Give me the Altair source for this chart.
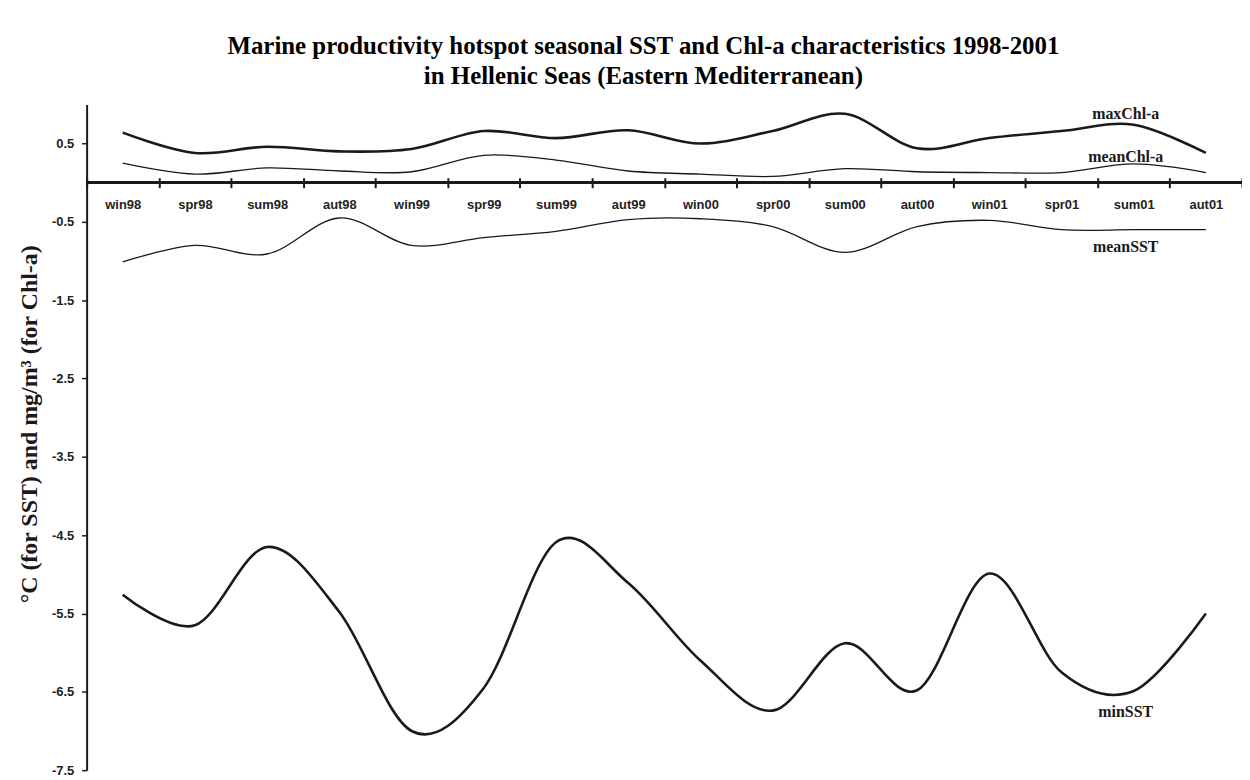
import altair as alt
import pandas as pd

seasons = ["win98", "spr98", "sum98", "aut98", "win99", "spr99", "sum99", "aut99",
           "win00", "spr00", "sum00", "aut00", "win01", "spr01", "sum01", "aut01"]
max_chl = [0.64, 0.38, 0.46, 0.40, 0.43, 0.66, 0.57, 0.67, 0.50, 0.66, 0.88, 0.44, 0.57, 0.66, 0.74, 0.38]
mean_chl = [0.25, 0.11, 0.19, 0.15, 0.14, 0.35, 0.29, 0.15, 0.11, 0.08, 0.18, 0.14, 0.13, 0.13, 0.24, 0.13]
mean_sst = [-1.01, -0.80, -0.91, -0.45, -0.80, -0.70, -0.62, -0.47, -0.46, -0.56, -0.89, -0.56, -0.48, -0.60, -0.60, -0.60]
min_sst = [-5.26, -5.65, -4.65, -5.48, -7.00, -6.45, -4.59, -5.11, -6.10, -6.74, -5.88, -6.48, -4.99, -6.25, -6.49, -5.50]
series_names = ["maxChl-a", "meanChl-a", "meanSST", "minSST"]
y_ticks = [-7.5, -6.5, -5.5, -4.5, -3.5, -2.5, -1.5, -0.5, 0.5]

rows = []
for name, vals in zip(series_names, [max_chl, mean_chl, mean_sst, min_sst]):
    for s, v in zip(seasons, vals):
        rows.append({"series": name, "season": s, "value": v})
df = pd.DataFrame(rows)

INK = "#1a1a1a"
W, H = 1161, 669
zero_px = H * 1.0 / 8.5

x_enc = alt.X(
    "season:N", sort=seasons, title=None,
    scale=alt.Scale(type="band", paddingInner=0, paddingOuter=0),
    bandPosition=0.5,
    axis=alt.Axis(orient="bottom", offset=(zero_px - 5) - H, domain=False, grid=False,
                  tickBand="extent", tickSize=10, tickWidth=2, tickColor=INK,
                  labelAngle=0, labelFont="Liberation Sans", labelFontSize=13,
                  labelFontWeight="bold", labelColor="#222222", labelPadding=11,
                  labelBaseline="top"),
)
y_scale = alt.Scale(domain=[-7.5, 1.0], nice=False, zero=False)
y_axis = alt.Axis(values=y_ticks, labelExpr="'' + datum.value", grid=False,
                  domainColor=INK, domainWidth=2, tickColor=INK, tickSize=5, tickWidth=1.5,
                  labelFont="Liberation Sans", labelFontSize=13, labelFontWeight="bold",
                  labelColor="#222222", labelPadding=8,
                  title="°C (for SST) and mg/m³ (for Chl-a)", titleFont="Liberation Serif",
                  titleFontSize=24, titleFontWeight="bold", titleColor=INK,
                  titleX=-50.5, titleY=321, titleBaseline="alphabetic")
y_enc = alt.Y("value:Q", scale=y_scale, axis=y_axis)

base = alt.Chart(df)

widths = {"maxChl-a": 2.6, "meanChl-a": 1.3, "meanSST": 1.3, "minSST": 2.6}
label_off = {"maxChl-a": -11, "meanChl-a": -7, "meanSST": 17, "minSST": 21}

layers = []
for name in series_names:
    layers.append(
        base.transform_filter(alt.datum.series == name)
        .mark_line(interpolate="cardinal", tension=0, color=INK, strokeWidth=widths[name])
        .encode(x=x_enc, y=y_enc)
    )
for name in series_names:
    layers.append(
        base.transform_filter((alt.datum.series == name) & (alt.datum.season == "sum01"))
        .mark_text(font="Liberation Serif", fontWeight="bold", fontSize=16, color=INK,
                   align="center", baseline="middle", dx=-8, dy=label_off[name])
        .encode(x=x_enc, y=y_enc, text="series:N")
    )
zero_rule = alt.Chart(df).mark_rule(color=INK, strokeWidth=2.5).encode(
    y=alt.Y(datum=0, type="quantitative", scale=y_scale, axis=y_axis)
)

chart = alt.layer(*layers, zero_rule).properties(
    width=W, height=H,
    title=alt.TitleParams(
        text=["Marine productivity hotspot seasonal SST and Chl-a characteristics 1998-2001",
              "in Hellenic Seas (Eastern Mediterranean)"],
        font="Liberation Serif", fontSize=25, fontWeight="bold", color="black",
        anchor="middle", dx=-21, offset=15, lineHeight=31,
    ),
    autosize=alt.AutoSizeParams(type="none"),
    padding={"left": 79, "top": 95, "right": 0, "bottom": 8},
).configure(background="white").configure_view(stroke=None).configure_axis(grid=False)

chart.save("out.html", embed_options={"renderer": "svg", "actions": False})
